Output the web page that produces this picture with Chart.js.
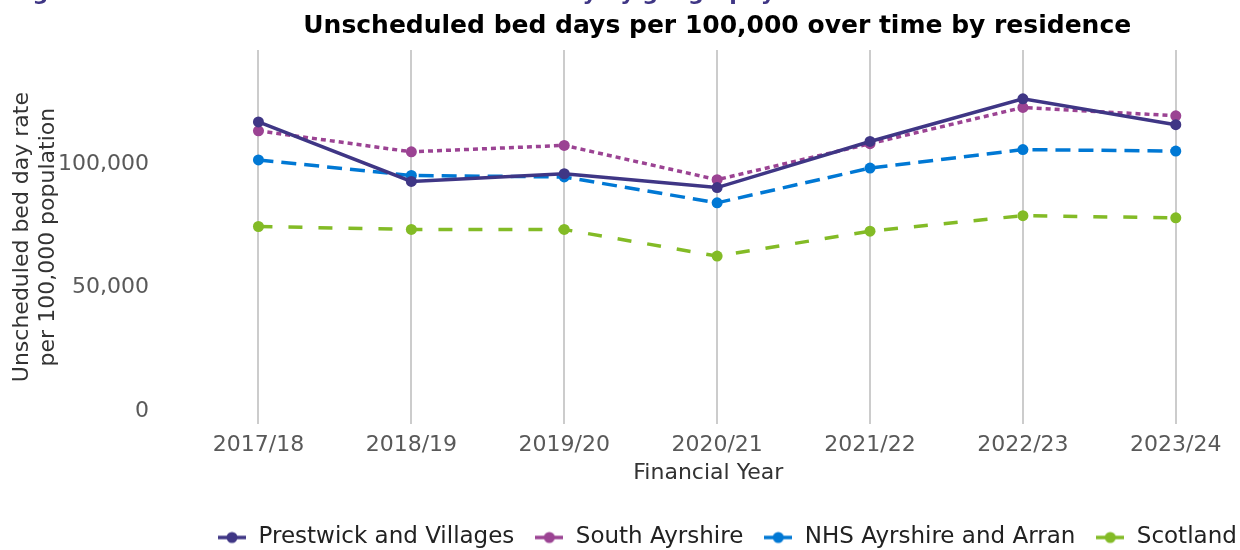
<!DOCTYPE html>
<html>
<head>
<meta charset="utf-8">
<script src="https://cdn.jsdelivr.net/npm/chart.js@4.4.1/dist/chart.umd.min.js"></script>
<style>
  html, body { margin: 0; padding: 0; background: #ffffff; overflow: hidden; }
  #wrap { position: relative; width: 1240px; height: 559px; }
</style>
</head>
<body>
<div id="wrap"><canvas id="chart_beddays"></canvas></div>
<script>
const years = ["2017/18", "2018/19", "2019/20", "2020/21", "2021/22", "2022/23", "2023/24"];
const prestwick = [117200, 93100, 96200, 90600, 109300, 126600, 116100];
const southAyrshire = [113600, 105100, 107700, 93800, 108400, 123100, 119700];
const nhsAyrshire = [101800, 95500, 94900, 84400, 98500, 106000, 105400];
const scotland = [74800, 73600, 73600, 62800, 72900, 79200, 78300];
const yTicks = [0, 50000, 100000];

const seriesNames = ["Prestwick and Villages", "South Ayrshire", "NHS Ayrshire and Arran", "Scotland"];
const seriesColours = ["#3f3685", "#9b4393", "#0078d4", "#83bb26"];
const seriesDashes = [[], [5, 4], [15, 8], [14, 16]];

const headerText = "Figure 15: Unscheduled acute care bed activity by geography";

Chart.defaults.font.family = "'DejaVu Sans', sans-serif";

// legend marker: short line with a dot in the middle
function legendMarker(colour) {
  const c = document.createElement("canvas");
  c.width = 28;
  c.height = 14;
  const g = c.getContext("2d");
  g.strokeStyle = colour;
  g.lineWidth = 3.5;
  g.beginPath();
  g.moveTo(0, 7);
  g.lineTo(28, 7);
  g.stroke();
  g.fillStyle = colour;
  g.beginPath();
  g.arc(14, 7, 5.5, 0, Math.PI * 2);
  g.fill();
  return c;
}

function toPoints(values) {
  return values.map((v, i) => ({ x: i, y: v }));
}

const allSeries = [prestwick, southAyrshire, nhsAyrshire, scotland];

const datasets = allSeries.map((values, i) => ({
  label: seriesNames[i],
  data: toPoints(values),
  borderColor: seriesColours[i],
  backgroundColor: seriesColours[i],
  pointBackgroundColor: seriesColours[i],
  pointBorderColor: seriesColours[i],
  legendStyle: legendMarker(seriesColours[i]),
  pointStyle: "circle",
  borderWidth: 3.5,
  borderDash: seriesDashes[i],
  pointRadius: 5.5,
  pointBorderWidth: 0,
  tension: 0,
  fill: false,
}));

const headerPlugin = {
  id: "headerPlugin",
  beforeDraw(chart) {
    // nudge the boxes to where they sit in the reference
    chart.legend.left = 197;
    chart.legend.right = 1300;
    chart.titleBlock.left = 200;
  },
  afterDraw(chart) {
    const ctx = chart.ctx;
    ctx.save();
    ctx.font = "bold 22px 'DejaVu Sans'";
    ctx.fillStyle = "#3f3685";
    ctx.textBaseline = "alphabetic";
    ctx.textAlign = "left";
    ctx.fillText(headerText, 10, 0);
    ctx.restore();
  },
};

const chart_beddays = new Chart(document.getElementById("chart_beddays").getContext("2d"), {
  type: "line",
  data: { datasets: datasets },
  plugins: [headerPlugin],
  options: {
    responsive: true,
    maintainAspectRatio: false,
    animation: false,
    layout: { padding: { top: 0, right: 0, bottom: 0, left: 0 } },
    plugins: {
      title: {
        display: true,
        text: "Unscheduled bed days per 100,000 over time by residence",
        color: "#000000",
        fullSize: false,
        font: { size: 25, weight: "bold" },
        padding: { top: 11, bottom: 9 },
      },
      legend: {
        position: "bottom",
        align: "start",
        labels: {
          color: "#222222",
          font: { size: 23 },
          padding: 20,
          usePointStyle: true,
          pointStyleWidth: 30,
          generateLabels(chart) {
            return chart.data.datasets.map((d, i) => ({
              text: d.label,
              pointStyle: d.legendStyle,
              fillStyle: d.borderColor,
              strokeStyle: d.borderColor,
              fontColor: "#222222",
              lineWidth: 0,
              hidden: false,
              datasetIndex: i,
            }));
          },
        },
      },
      tooltip: { enabled: false },
    },
    scales: {
      x: {
        type: "linear",
        min: -0.5,
        max: 6.384,
        afterBuildTicks(scale) {
          scale.ticks = years.map((_, i) => ({ value: i }));
        },
        grid: { color: "#cccccc", lineWidth: 2, drawTicks: false },
        border: { display: false },
        ticks: {
          color: "#595959",
          font: { size: 22 },
          padding: 8,
          maxRotation: 0,
          autoSkip: false,
          callback: (v) => years[v],
        },
        title: {
          display: true,
          text: "Financial Year",
          color: "#333333",
          font: { size: 22 },
          padding: { top: -7, bottom: 20 },
        },
      },
      y: {
        min: -5400,
        max: 146400,
        afterBuildTicks(scale) {
          scale.ticks = yTicks.map((v) => ({ value: v }));
        },
        afterFit(scale) {
          scale.width = 182;
        },
        grid: { display: false },
        border: { display: false },
        ticks: {
          color: "#595959",
          font: { size: 22 },
          padding: 25,
          callback: (v) => v.toLocaleString("en-GB"),
        },
        title: {
          display: true,
          text: ["Unscheduled bed day rate", "per 100,000 population"],
          color: "#333333",
          font: { size: 22 },
          padding: { top: 9, bottom: 0 },
        },
      },
    },
  },
});
</script>
</body>
</html>
